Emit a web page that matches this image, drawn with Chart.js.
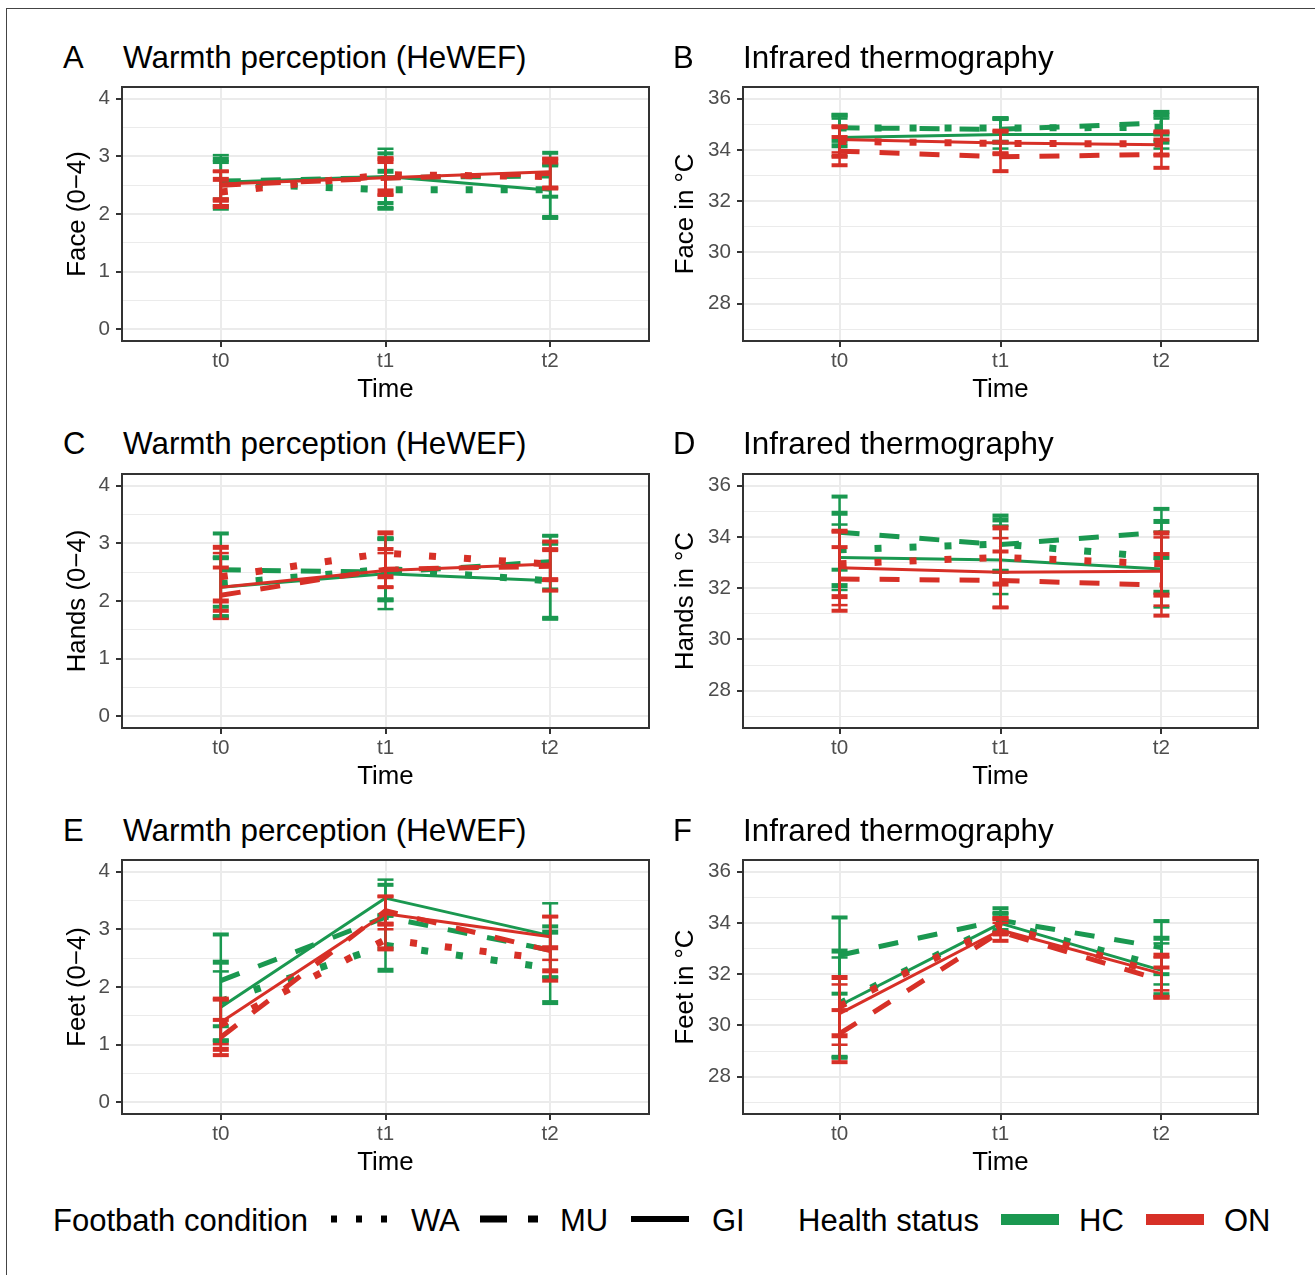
<!DOCTYPE html>
<html><head><meta charset="utf-8">
<script src="https://cdn.jsdelivr.net/npm/chart.js@4.4.1/dist/chart.umd.min.js"></script>
<style>
html,body{margin:0;padding:0;background:#fff;overflow:hidden;width:1315px;height:1275px;}
body{position:relative;font-family:'Liberation Sans',Arial,Helvetica,sans-serif;}
.frame{position:absolute;left:6px;top:8px;width:1400px;height:1400px;border:1px solid #444;box-sizing:border-box;}
.tag,.title,.leg{position:absolute;font-size:31px;line-height:31px;color:#000;white-space:nowrap;}
.title{font-size:31.4px;}
canvas{position:absolute;}
svg.key{position:absolute;overflow:visible;}
</style></head>
<body>
<div class="frame"></div>
<div id="root"></div>
<script>
// ---------- data ----------
const timeLabels = ['t0', 't1', 't2'];
const timeValues = [0, 1, 2];
const seriesGroup = ['HC', 'HC', 'HC', 'ON', 'ON', 'ON'];
const seriesCond  = ['WA', 'MU', 'GI', 'WA', 'MU', 'GI'];
const legendConds = ['WA', 'MU', 'GI'];
const legendGroups = ['HC', 'ON'];

// Panel A: face warmth perception (rows: HC-WA, HC-MU, HC-GI, ON-WA, ON-MU, ON-GI)
const A_mean = [[2.53,2.42,2.42],[2.57,2.63,2.66],[2.55,2.65,2.41],[2.38,2.68,2.65],[2.50,2.62,2.70],[2.52,2.63,2.73]];
const A_low  = [[2.10,2.10,1.94],[2.25,2.19,2.30],[2.15,2.10,1.94],[2.13,2.40,2.45],[2.23,2.33,2.45],[2.27,2.33,2.45]];
const A_high = [[2.95,2.74,2.85],[2.90,3.05,3.06],[3.02,3.13,2.85],[2.60,2.96,2.90],[2.74,2.90,2.96],[2.74,2.96,2.96]];
// Panel B: face infrared thermography (°C)
const B_mean = [[34.85,34.85,34.88],[34.86,34.80,35.05],[34.48,34.60,34.60],[34.33,34.25,34.23],[33.95,33.73,33.82],[34.40,34.27,34.20]];
const B_low  = [[34.16,34.30,34.30],[34.35,34.30,34.60],[33.75,34.05,34.05],[33.75,33.85,33.80],[33.40,33.17,33.30],[33.90,33.85,33.80]];
const B_high = [[35.35,35.22,35.35],[35.35,35.22,35.48],[35.22,35.22,35.22],[34.90,34.73,34.70],[34.50,34.30,34.40],[34.90,34.73,34.70]];
// Panel C: hands warmth perception
const C_mean = [[2.30,2.55,2.35],[2.54,2.50,2.68],[2.24,2.47,2.35],[2.42,2.83,2.64],[2.10,2.55,2.60],[2.24,2.53,2.64]];
const C_low  = [[1.73,2.02,1.70],[1.90,2.02,2.20],[1.73,1.86,1.70],[2.00,2.42,2.37],[1.83,2.24,2.18],[1.69,2.24,2.37]];
const C_high = [[2.75,3.08,3.00],[3.17,3.08,3.13],[2.75,3.08,3.13],[2.93,3.18,2.89],[2.58,2.90,3.03],[2.83,2.83,2.89]];
// Panel D: hands infrared thermography (°C)
const D_mean = [[33.50,33.72,33.20],[34.18,33.70,34.18],[33.20,33.10,32.75],[32.95,33.20,32.95],[32.36,32.30,32.12],[32.80,32.62,32.66]];
const D_low  = [[32.10,32.66,31.84],[32.72,32.66,33.18],[31.93,31.77,31.25],[31.67,32.16,31.73],[31.12,31.25,30.93],[31.34,31.25,31.32]];
const D_high = [[34.92,34.66,34.60],[35.57,34.83,35.09],[34.48,34.44,34.20],[34.22,34.35,34.15],[33.60,33.43,33.33],[34.22,33.95,33.98]];
// Panel E: feet warmth perception
const E_mean = [[1.75,2.72,2.33],[2.11,3.21,2.64],[1.65,3.54,2.89],[1.35,2.82,2.48],[1.13,3.32,2.63],[1.39,3.27,2.87]];
const E_low  = [[1.07,2.29,1.73],[1.32,2.66,2.17],[1.07,3.24,2.17],[0.92,2.66,2.28],[0.82,3.09,2.11],[1.01,3.00,2.47]];
const E_high = [[2.43,3.24,2.95],[2.91,3.77,3.05],[2.27,3.86,3.45],[1.79,3.09,2.68],[1.43,3.57,3.22],[1.79,3.57,3.22]];
// Panel F: feet infrared thermography (°C)
const F_mean = [[30.85,33.98,32.30],[32.74,34.10,33.04],[30.78,33.98,32.15],[30.75,33.90,32.00],[29.68,33.65,31.76],[30.46,33.72,32.02]];
const F_low  = [[28.76,33.60,31.20],[31.24,33.72,32.00],[28.76,33.60,31.60],[29.60,33.60,31.10],[28.57,33.30,31.10],[29.25,33.52,31.37]];
const F_high = [[32.90,34.37,33.40],[34.21,34.57,34.07],[32.65,34.37,33.20],[31.87,34.17,32.74],[30.60,34.17,32.26],[31.60,34.00,32.65]];

// ---------- styles / layout ----------
const FONT = "'Liberation Sans', Arial, Helvetica, sans-serif";
const groupColor = {HC: '#1a9850', ON: '#d73027'};
const condStyle = {
  WA: {dash: [7, 28], width: 7, capW: 5, stemW: 2.5},
  MU: {dash: [20, 20], width: 5, capW: 4, stemW: 2.5},
  GI: {dash: [], width: 3, capW: 2.5, stemW: 2.5}
};
const scaleWarmth = {min: -0.2, max: 4.2, from: 0, to: 4, minor: 0.5, major: 1};
const scaleTemp = {min: 26.55, max: 36.45, from: 27, to: 36, minor: 1, major: 2};
const colLeft = [{canvasLeft: 60, padL: 62, plotW: 527, tagX: 63, titleX: 123},
                 {canvasLeft: 668, padL: 75, plotW: 515, tagX: 673, titleX: 743}];
const rowTop = [87, 473.5, 860];
const rowTitleCenter = [57, 443.5, 830];
const PAD_T = 26, PAD_B = 70, PAD_R = 26, PLOT_H = 254;

const panels = [
  {tag:'A', title:'Warmth perception (HeWEF)', yTitle:'Face (0\u22124)', mean:A_mean, low:A_low, high:A_high, sc:scaleWarmth, col:0, row:0},
  {tag:'B', title:'Infrared thermography', yTitle:'Face in \u00B0C', mean:B_mean, low:B_low, high:B_high, sc:scaleTemp, col:1, row:0},
  {tag:'C', title:'Warmth perception (HeWEF)', yTitle:'Hands (0\u22124)', mean:C_mean, low:C_low, high:C_high, sc:scaleWarmth, col:0, row:1},
  {tag:'D', title:'Infrared thermography', yTitle:'Hands in \u00B0C', mean:D_mean, low:D_low, high:D_high, sc:scaleTemp, col:1, row:1},
  {tag:'E', title:'Warmth perception (HeWEF)', yTitle:'Feet (0\u22124)', mean:E_mean, low:E_low, high:E_high, sc:scaleWarmth, col:0, row:2},
  {tag:'F', title:'Infrared thermography', yTitle:'Feet in \u00B0C', mean:F_mean, low:F_low, high:F_high, sc:scaleTemp, col:1, row:2}
];

const borderPlugin = {
  id: 'panelBorder',
  afterDatasetsDraw(chart) {
    const {ctx, chartArea: a} = chart;
    ctx.save();
    ctx.strokeStyle = '#333333';
    ctx.lineWidth = 2;
    ctx.strokeRect(a.left, a.top, a.right - a.left, a.bottom - a.top);
    ctx.restore();
  }
};

const root = document.getElementById('root');
function addText(cls, text, left, centerY) {
  const d = document.createElement('div');
  d.className = cls; d.textContent = text;
  d.style.left = left + 'px';
  d.style.top = (centerY - 15.1) + 'px';
  root.appendChild(d);
}

panels.forEach(p => {
  const c = colLeft[p.col];
  const top = rowTop[p.row] - PAD_T;
  const W = c.padL + c.plotW + PAD_R;
  const H = PAD_T + PLOT_H + PAD_B;
  addText('tag', p.tag, c.tagX, rowTitleCenter[p.row]);
  addText('title', p.title, c.titleX, rowTitleCenter[p.row]);

  const cv = document.createElement('canvas');
  cv.width = W; cv.height = H;
  cv.style.left = c.canvasLeft + 'px'; cv.style.top = top + 'px';
  cv.style.width = W + 'px'; cv.style.height = H + 'px';
  root.appendChild(cv);

  const sc = p.sc;
  const yVals = [];
  for (let v = sc.from; v <= sc.to + 1e-9; v += sc.minor) yVals.push(Math.round(v * 1000) / 1000);
  const isMajor = v => Math.abs(v / sc.major - Math.round(v / sc.major)) < 1e-6;

  const lineSets = [], errSets = [];
  seriesGroup.forEach((g, i) => {
    const st = condStyle[seriesCond[i]];
    const col = groupColor[g];
    lineSets.push({
      grp: g,
      data: timeValues.map((t, k) => ({x: t, y: p.mean[i][k]})),
      borderColor: col, borderWidth: st.width, borderDash: st.dash,
      borderCapStyle: 'butt', borderJoinStyle: 'round',
      pointRadius: 0, fill: false, tension: 0
    });
    const ed = [];
    timeValues.forEach((t, k) => {
      ed.push({x: t, y: p.low[i][k]}, {x: t, y: p.high[i][k]}, {x: t, y: null});
    });
    errSets.push({
      grp: g,
      data: ed, spanGaps: false,
      borderColor: col, borderWidth: st.stemW,
      pointStyle: 'line', pointRadius: 8, pointHoverRadius: 8,
      pointBorderColor: col, pointBorderWidth: st.capW,
      fill: false, tension: 0
    });
  });
  const datasets = [
    ...lineSets.filter(d => d.grp === 'ON'), ...errSets.filter(d => d.grp === 'ON'),
    ...lineSets.filter(d => d.grp === 'HC'), ...errSets.filter(d => d.grp === 'HC')
  ];

  new Chart(cv.getContext('2d'), {
    type: 'line',
    data: {datasets},
    plugins: [borderPlugin],
    options: {
      responsive: false, animation: false, devicePixelRatio: 1,
      layout: {padding: {top: PAD_T, right: PAD_R, left: 0, bottom: 0}},
      plugins: {legend: {display: false}, tooltip: {enabled: false}},
      events: [],
      scales: {
        x: {
          type: 'linear', min: -0.6, max: 2.6,
          afterBuildTicks: s => { s.ticks = timeValues.map(v => ({value: v})); },
          afterFit: s => { s.height = PAD_B; },
          ticks: {autoSkip: false, maxRotation: 0, padding: 2,
                  color: '#4D4D4D', font: {family: FONT, size: 20.6},
                  callback: v => timeLabels[timeValues.indexOf(v)]},
          grid: {color: '#EBEBEB', lineWidth: 2, tickColor: '#333333', tickLength: 6, tickWidth: 2, drawTicks: true},
          border: {display: false},
          title: {display: true, text: 'Time', color: '#000', font: {family: FONT, size: 25.8}, padding: {top: 0, bottom: 5.7}}
        },
        y: {
          type: 'linear', min: sc.min, max: sc.max,
          afterBuildTicks: s => { s.ticks = yVals.map(v => ({value: v})); },
          afterFit: s => { s.width = c.padL; },
          ticks: {autoSkip: false, padding: 6, color: '#4D4D4D', font: {family: FONT, size: 20.6},
                  callback: v => isMajor(v) ? String(Math.round(v)) : ''},
          grid: {
            color: '#EBEBEB',
            lineWidth: ctx => (ctx.tick && isMajor(ctx.tick.value)) ? 2 : 1,
            tickColor: ctx => (ctx.tick && isMajor(ctx.tick.value)) ? '#333333' : 'rgba(0,0,0,0)',
            tickLength: 6, tickWidth: 2, drawTicks: true
          },
          border: {display: false},
          title: {display: true, text: p.yTitle, color: '#000', font: {family: FONT, size: 25.8}, padding: {top: 2.7, bottom: 0}}
        }
      }
    }
  });
});

// ---------- legend ----------
const LEG_Y = 1220.5;
function keySvg(left, width, height, inner) {
  const ns = 'http://www.w3.org/2000/svg';
  const s = document.createElementNS(ns, 'svg');
  s.setAttribute('class', 'key');
  s.setAttribute('width', width); s.setAttribute('height', height);
  s.style.left = left + 'px'; s.style.top = (1219 - height / 2) + 'px';
  s.innerHTML = inner;
  root.appendChild(s);
}
addText('leg', 'Footbath condition', 53, LEG_Y);
const condKeyX = {WA: 331, MU: 480, GI: 631};
const condTextX = {WA: 411, MU: 560, GI: 712};
const condKeyDash = {WA: '6 19', MU: '27 21', GI: ''};
const condKeyW = {WA: 7, MU: 7, GI: 6};
legendConds.forEach(k => {
  keySvg(condKeyX[k], 58, 12,
    `<line x1="0" y1="6" x2="58" y2="6" stroke="#000" stroke-width="${condKeyW[k]}" ${condKeyDash[k] ? `stroke-dasharray="${condKeyDash[k]}"` : ''} stroke-linecap="butt"/>`);
  addText('leg', k, condTextX[k], LEG_Y);
});
addText('leg', 'Health status', 798, LEG_Y);
const groupKeyX = {HC: 1001, ON: 1146};
const groupTextX = {HC: 1079, ON: 1224};
legendGroups.forEach(g => {
  keySvg(groupKeyX[g], 58, 11, `<rect x="0" y="0" width="58" height="11" fill="${groupColor[g]}"/>`);
  addText('leg', g, groupTextX[g], LEG_Y);
});
</script>
</body></html>
